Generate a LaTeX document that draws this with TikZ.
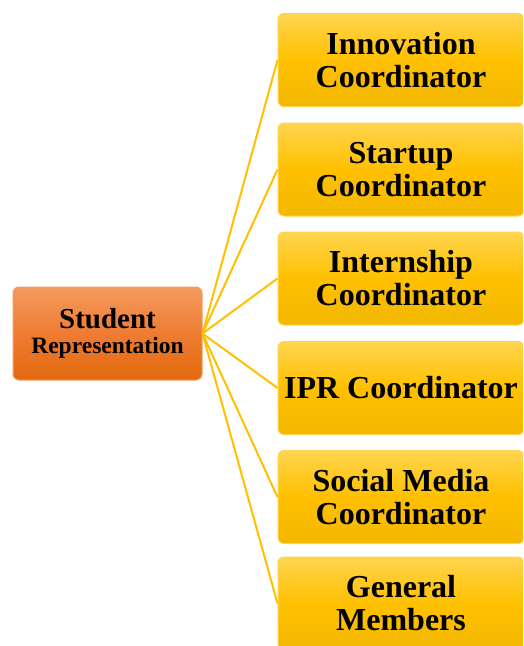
\documentclass[tikz,border=0pt]{standalone}
\usepackage{fontspec}
\setmainfont{Liberation Serif}
\definecolor{gold}{HTML}{FFC000}
\definecolor{goldtop}{HTML}{FFD54F}
\definecolor{goldbot}{HTML}{F2B700}
\definecolor{orangetop}{HTML}{F49B60}
\definecolor{orangemid}{HTML}{EE7C32}
\definecolor{orangebot}{HTML}{E2690E}
\begin{document}
\begin{tikzpicture}[x=1pt,y=-1pt,
    rolebox/.style={rounded corners=6pt,minimum width=246pt,minimum height=93pt,
      top color=goldtop,bottom color=goldbot,middle color=gold,draw=goldtop,line width=1pt,
      align=center,font=\fontsize{32}{33}\selectfont\bfseries},
    headbox/.style={rounded corners=6pt,minimum width=189pt,minimum height=93pt,
      top color=orangetop,bottom color=orangebot,middle color=orangemid,draw=orangetop,line width=1pt,
      align=center,font=\fontsize{29}{25}\selectfont\bfseries}]
      \useasboundingbox (0,0) rectangle (523,646);
      \clip (0,0) rectangle (523,646);
      \draw
        (107.5,333.5) node[headbox] (s){Student\\{\fontsize{23.5}{25}\selectfont Representation}}
        (401,60) node[rolebox] (1){Innovation\\Coordinator}
        (401,169.5) node[rolebox] (2){Startup\\Coordinator}
        (401,278.5) node[rolebox] (3){Internship\\Coordinator}
        (401,388) node[rolebox] (4){IPR Coordinator}
        (401,497) node[rolebox] (5){Social Media\\Coordinator}
        (401,603.5) node[rolebox] (6){General\\Members};
      \begin{scope}[-,draw=gold,line width=2pt]
        \draw (s.east) to (1.west);
        \draw (s.east) to (2.west);
        \draw (s.east) to (3.west);
        \draw (s.east) to (4.west);
        \draw (s.east) to (5.west);
        \draw (s.east) to (6.west);
      \end{scope}
    \end{tikzpicture}
\end{document}
